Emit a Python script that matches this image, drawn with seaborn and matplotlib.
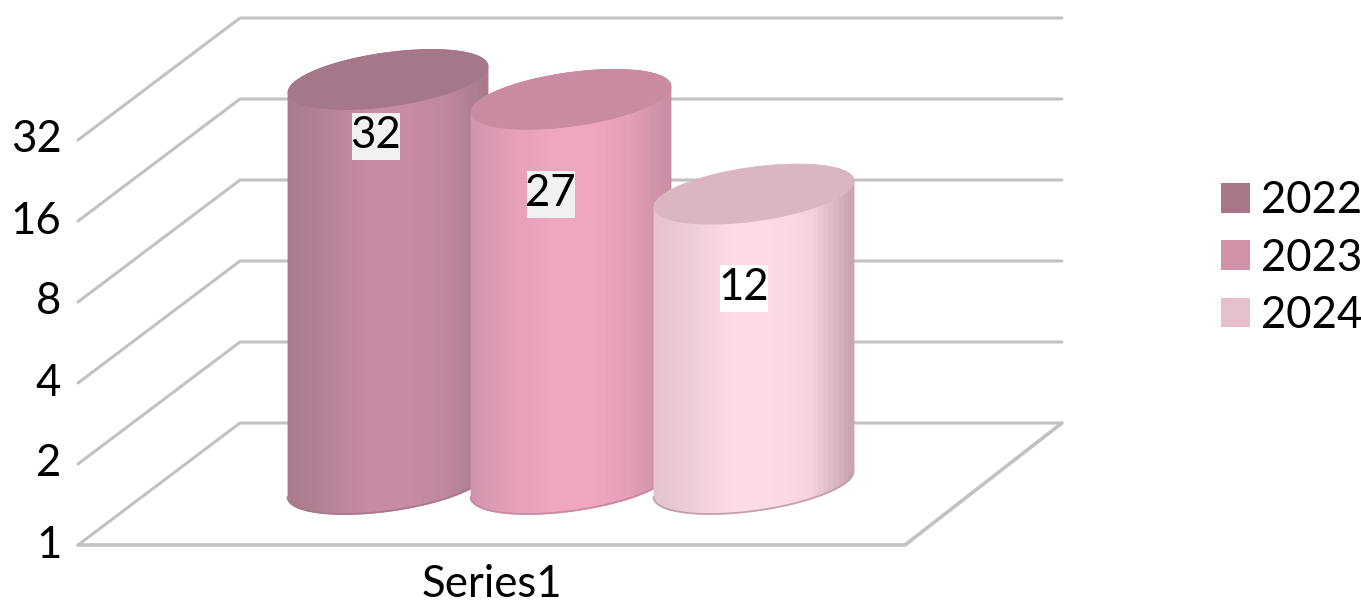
import numpy as np
import seaborn as sns
import matplotlib.pyplot as plt
from matplotlib.patches import Patch, Rectangle
from matplotlib.transforms import IdentityTransform, ScaledTranslation

# Data
years = ['2022', '2023', '2024']
values = [32, 27, 12]
category = 'Series1'
y_ticks = [1, 2, 4, 8, 16, 32]
legend_colors = ['#a87589', '#cf92a8', '#e5bfcc']

# Body shading of each cylinder, left to right, and the colour of its top face
body_stops = [
    ['#a97a8d', '#b6849a', '#c78ca4', '#c78ca4', '#c088a0', '#a87a8c'],
    ['#d295ad', '#e4a0ba', '#efa6be', '#f1a6bf', '#e59fb8', '#c98fa6'],
    ['#e6c3cd', '#efcfd8', '#fcdbe7', '#fcdbe7', '#f5d2de', '#c9a5b4'],
]
top_colors = ['#a5778a', '#c88ba2', '#dab6c3']
edge_colors = ['#a87a8c', '#c48ba2', '#bfa0ac']
label_bg = ['#f1f1f1', '#f1f1f1', '#ffffff']

# Pixels of the figure: one doubling on the log axis is 81 px
W, H = 1361, 603
UNIT = 81
AX_LEFT, AX_RIGHT, AX_FLOOR = 78, 1064, 545
DEPTH_X, DEPTH_Y = 162, 122
FLOOR_RIGHT = 905
BAR_HALF, BAR_STEP = 100, 183
TILT, FLAT = 13, 27
GRID = '#c2c2c2'
FONT = 31.5


def lift(v, px):
    # same value, moved px pixels up the log axis
    return v * 2 ** (np.asarray(px) / UNIT)


def rim(u, sign):
    return TILT * u + sign * FLAT * np.sqrt(1 - np.clip(u, -1, 1) ** 2)


sns.set_theme(style='white')
plt.rcParams['font.family'] = ['Lato', 'DejaVu Sans']

fig = plt.figure(figsize=(W / 100, H / 100), dpi=100)
ax = fig.add_axes([AX_LEFT / W, (H - AX_FLOOR) / H, (AX_RIGHT - AX_LEFT) / W, AX_FLOOR / H])
ax.set_yscale('log', base=2)
ax.set_xlim(AX_LEFT, AX_RIGHT)
ax.set_ylim(1, lift(1, AX_FLOOR))
sns.despine(ax=ax, left=True, bottom=True)

# Walls and floor
back = AX_LEFT + DEPTH_X
for t in y_ticks:
    t_back = lift(t, DEPTH_Y)
    sns.lineplot(x=[AX_LEFT, back, AX_RIGHT - 2], y=[t, t_back, t_back], color=GRID, linewidth=2.2,
                 estimator=None, sort=False, ax=ax, clip_on=False, zorder=1)
sns.lineplot(x=[AX_LEFT, FLOOR_RIGHT, AX_RIGHT - 2], y=[1, 1, lift(1, DEPTH_Y)], color=GRID, linewidth=2.6,
             estimator=None, sort=False, ax=ax, clip_on=False, zorder=1)

# Cylinders, each one in front of the one before
group_x = (AX_LEFT + FLOOR_RIGHT) / 2 + DEPTH_X / 2 - 2
n_strips = 40
floor_mid = DEPTH_Y / 2
for i, v in enumerate(values):
    cx = group_x + (i - 1) * BAR_STEP
    z = 3 + i
    shades = sns.blend_palette(body_stops[i], n_strips)
    edges = np.linspace(-1, 1, n_strips + 1)
    for k in range(n_strips):
        u = np.linspace(edges[k], edges[k + 1], 6)
        ax.fill_between(cx + BAR_HALF * u, lift(1, floor_mid + rim(u, -1)), lift(v, floor_mid + rim(u, 1)),
                        color=shades[k], linewidth=0.6, zorder=z)
    u = np.sin(np.linspace(-np.pi / 2, np.pi / 2, 121))
    ax.fill_between(cx + BAR_HALF * u, lift(v, floor_mid + rim(u, -1)), lift(v, floor_mid + rim(u, 1)),
                    color=top_colors[i], linewidth=0.6, zorder=z)
    ax.plot(cx + BAR_HALF * u, lift(1, floor_mid + rim(u, -1)), color=edge_colors[i], linewidth=1.2, zorder=z)

# Value labels sit a fixed way down each body, on a box taller than the text
label_dx = [-12, -20, -10]
label_dy = [57, 95, 94]
for i, v in enumerate(values):
    cx = group_x + (i - 1) * BAR_STEP
    lx, ly = cx + label_dx[i], lift(v, floor_mid - label_dy[i])
    px, py = ax.transData.transform((lx, ly))
    ax.add_patch(Rectangle((px - 24, py - 24), 48, 47, transform=IdentityTransform(),
                           facecolor=label_bg[i], edgecolor='none', zorder=9, clip_on=False))
    ax.text(lx, ly, str(v), fontsize=FONT, color='black', ha='center', va='center', zorder=10)

# Axis text
ax.set_yticks(y_ticks)
ax.set_yticklabels([str(t) for t in y_ticks])
ax.minorticks_off()
ax.set_xticks([(AX_LEFT + FLOOR_RIGHT) / 2])
ax.set_xticklabels([category])
ax.tick_params(axis='y', length=0, pad=12, labelsize=FONT, colors='black')
ax.tick_params(axis='x', length=0, pad=14, labelsize=FONT, colors='black')
for lab in ax.get_yticklabels():
    lab.set_transform(lab.get_transform() + ScaledTranslation(0, 4 / 100, fig.dpi_scale_trans))

handles = [Patch(facecolor=c, edgecolor='none', label=y) for c, y in zip(legend_colors, years)]
ax.legend(handles=handles, loc='center left', bbox_to_anchor=(1183 / W, (H - 258) / H),
          bbox_transform=fig.transFigure, frameon=False, fontsize=FONT, labelcolor='black',
          handlelength=0.66, handleheight=0.66, handletextpad=0.27, labelspacing=0.37, borderpad=0.36)

fig.savefig('out.png', dpi=100)
